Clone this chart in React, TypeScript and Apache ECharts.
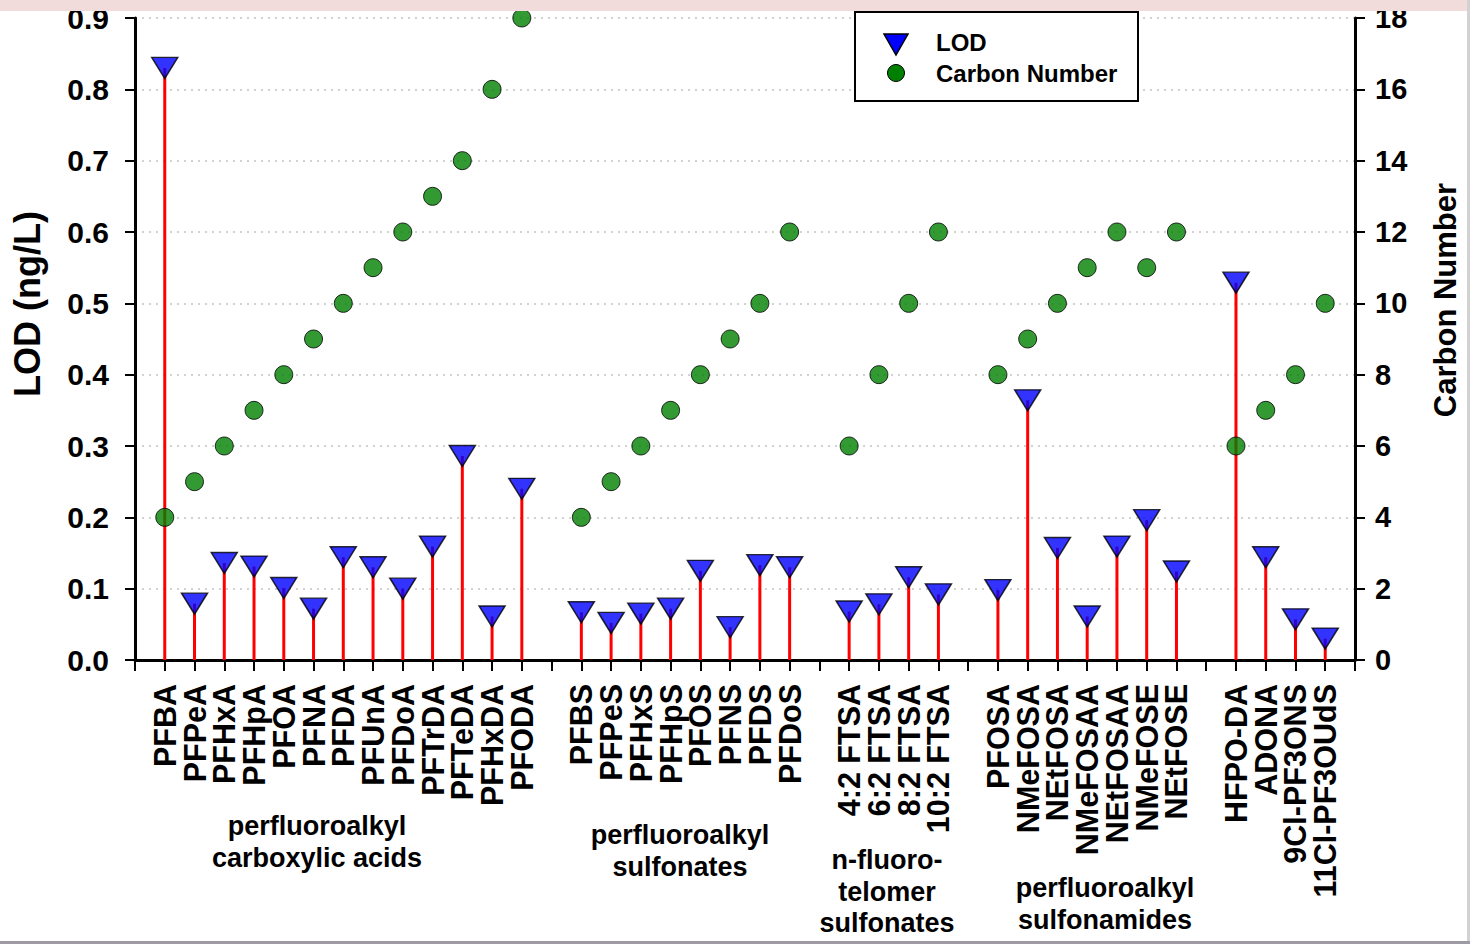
import React, { useEffect, useRef } from "react";
import * as echarts from "echarts";

const carboxylicNames = ["PFBA", "PFPeA", "PFHxA", "PFHpA", "PFOA", "PFNA", "PFDA", "PFUnA", "PFDoA", "PFTrDA", "PFTeDA", "PFHxDA", "PFODA"];
const carboxylicLOD = [0.83, 0.079, 0.136, 0.131, 0.101, 0.072, 0.144, 0.13, 0.1, 0.159, 0.286, 0.061, 0.24];
const carboxylicC = [4, 5, 6, 7, 8, 9, 10, 11, 12, 13, 14, 16, 18];

const sulfonateNames = ["PFBS", "PFPeS", "PFHxS", "PFHpS", "PFOS", "PFNS", "PFDS", "PFDoS"];
const sulfonateLOD = [0.067, 0.052, 0.065, 0.072, 0.125, 0.046, 0.133, 0.13];
const sulfonateC = [4, 5, 6, 7, 8, 9, 10, 12];

const telomerNames = ["4:2 FTSA", "6:2 FTSA", "8:2 FTSA", "10:2 FTSA"];
const telomerLOD = [0.068, 0.078, 0.116, 0.092];
const telomerC = [6, 8, 10, 12];

const sulfonamideNames = ["PFOSA", "NMeFOSA", "NEtFOSA", "NMeFOSAA", "NEtFOSAA", "NMeFOSE", "NEtFOSE"];
const sulfonamideLOD = [0.098, 0.364, 0.157, 0.061, 0.159, 0.196, 0.124];
const sulfonamideC = [8, 9, 10, 11, 12, 11, 12];

const otherNames = ["HFPO-DA", "ADONA", "9Cl-PF3ONS", "11Cl-PF3OUdS"];
const otherLOD = [0.529, 0.144, 0.057, 0.03];
const otherC = [6, 7, 8, 10];

const leftTicks = { min: 0, max: 0.9, interval: 0.1 };
const rightTicks = { min: 0, max: 18, interval: 2 };

const FONT = "'Liberation Sans', Arial, sans-serif";

export default function App() {
  const ref = useRef<HTMLDivElement>(null);

  useEffect(() => {
    document.body.style.margin = "0";
    if (!ref.current) return;
    const chart = echarts.init(ref.current, null, { renderer: "svg" });

    const groups = [
      [carboxylicNames, carboxylicLOD, carboxylicC],
      [sulfonateNames, sulfonateLOD, sulfonateC],
      [telomerNames, telomerLOD, telomerC],
      [sulfonamideNames, sulfonamideLOD, sulfonamideC],
      [otherNames, otherLOD, otherC],
    ] as [string[], number[], number[]][];

    const categories: string[] = [""];
    const lod: (number | string)[] = ["-"];
    const carbon: (number | string)[] = ["-"];
    groups.forEach(([n, l, c]) => {
      n.forEach((name, i) => {
        categories.push(name);
        lod.push(l[i]);
        carbon.push(c[i]);
      });
      categories.push("");
      lod.push("-");
      carbon.push("-");
    });

    const groupLabel = (lines: string[], cx: number, y0: number) =>
      lines.map((t, i) => ({
        type: "text",
        x: cx,
        y: y0 + i * 31.5,
        style: {
          text: t,
          fill: "#000",
          font: `bold 27px ${FONT}`,
          textAlign: "center",
          textVerticalAlign: "middle",
        },
      }));

    chart.setOption({
      animation: false,
      backgroundColor: "#fff",
      grid: { left: 135, right: 115, top: 18, bottom: 284, containLabel: false },
      xAxis: {
        type: "category",
        data: categories,
        boundaryGap: false,
        axisLine: { lineStyle: { color: "#000", width: 3 } },
        axisTick: { show: true, interval: 0, length: 11, lineStyle: { color: "#000", width: 2 } },
        axisLabel: {
          interval: 0,
          rotate: 90,
          margin: 24,
          color: "#000",
          fontFamily: FONT,
          fontWeight: "bold",
          fontSize: 30.5,
        },
        splitLine: { show: false },
      },
      yAxis: [
        {
          type: "value",
          ...leftTicks,
          axisLine: { show: true, lineStyle: { color: "#000", width: 3 } },
          axisTick: { show: true, length: 10, lineStyle: { color: "#000", width: 2 } },
          axisLabel: {
            margin: 26,
            color: "#000",
            fontFamily: FONT,
            fontWeight: "bold",
            fontSize: 30,
            formatter: (v: number) => v.toFixed(1),
          },
          splitLine: { show: true, lineStyle: { color: "#c4c4c4", type: [2, 5], width: 1.5 } },
        },
        {
          type: "value",
          ...rightTicks,
          position: "right",
          axisLine: { show: true, lineStyle: { color: "#000", width: 3 } },
          axisTick: { show: true, length: 10, lineStyle: { color: "#000", width: 2 } },
          axisLabel: {
            margin: 20,
            color: "#000",
            fontFamily: FONT,
            fontWeight: "bold",
            fontSize: 29,
          },
          splitLine: { show: false },
        },
      ],
      series: [
        {
          name: "LOD stem",
          type: "bar",
          data: lod,
          barWidth: 3,
          yAxisIndex: 0,
          itemStyle: { color: "#ff0000" },
          z: 1,
          silent: true,
        },
        {
          name: "Carbon Number",
          type: "scatter",
          data: carbon,
          yAxisIndex: 1,
          symbol: "circle",
          symbolSize: 18,
          itemStyle: { color: "#008000", borderColor: "#000", borderWidth: 1 },
          z: 3,
        },
        {
          name: "LOD",
          type: "scatter",
          data: lod,
          yAxisIndex: 0,
          symbol: "triangle",
          symbolRotate: 180,
          symbolSize: [26, 21],
          itemStyle: { color: "#0000ff", borderColor: "#000", borderWidth: 1.5 },
          z: 4,
        },
      ],
      graphic: [
        // axis titles
        {
          type: "text",
          x: 27,
          y: 304,
          rotation: Math.PI / 2,
          style: {
            text: "LOD (ng/L)",
            fill: "#000",
            font: `bold 36px ${FONT}`,
            textAlign: "center",
            textVerticalAlign: "middle",
          },
        },
        {
          type: "text",
          x: 1445,
          y: 300,
          rotation: Math.PI / 2,
          style: {
            text: "Carbon Number",
            fill: "#000",
            font: `bold 31px ${FONT}`,
            textAlign: "center",
            textVerticalAlign: "middle",
          },
        },
        // legend
        {
          type: "rect",
          shape: { x: 855, y: 12, width: 283, height: 89 },
          style: { fill: "#fff", stroke: "#000", lineWidth: 2 },
          z: 50,
        },
        {
          type: "polygon",
          shape: { points: [[884, 34], [908, 34], [896, 55]] },
          style: { fill: "#0000ff", stroke: "#000", lineWidth: 1.5 },
          z: 51,
        },
        {
          type: "circle",
          shape: { cx: 896, cy: 73, r: 8.5 },
          style: { fill: "#008000", stroke: "#000", lineWidth: 1 },
          z: 51,
        },
        {
          type: "text",
          x: 936,
          y: 42,
          style: { text: "LOD", fill: "#000", font: `bold 24px ${FONT}`, textVerticalAlign: "middle" },
          z: 51,
        },
        {
          type: "text",
          x: 936,
          y: 73,
          style: { text: "Carbon Number", fill: "#000", font: `bold 24px ${FONT}`, textVerticalAlign: "middle" },
          z: 51,
        },
        // group labels
        ...groupLabel(["perfluoroalkyl", "carboxylic acids"], 317, 826),
        ...groupLabel(["perfluoroalkyl", "sulfonates"], 680, 835),
        ...groupLabel(["n-fluoro-", "telomer", "sulfonates"], 887, 860),
        ...groupLabel(["perfluoroalkyl", "sulfonamides"], 1105, 888),
        // frame decorations
        {
          type: "rect",
          shape: { x: 0, y: 0, width: 1467, height: 11 },
          style: { fill: "#f2dcdb" },
          z: 100,
        },
        {
          type: "rect",
          shape: { x: 1467, y: 0, width: 3, height: 944 },
          style: { fill: "#d2d2d2" },
          z: 100,
        },
        {
          type: "rect",
          shape: { x: 0, y: 941, width: 1470, height: 3 },
          style: { fill: "#9d9aa3" },
          z: 100,
        },
      ],
    });

    return () => chart.dispose();
  }, []);

  return <div ref={ref} style={{ width: 1470, height: 944 }} />;
}
